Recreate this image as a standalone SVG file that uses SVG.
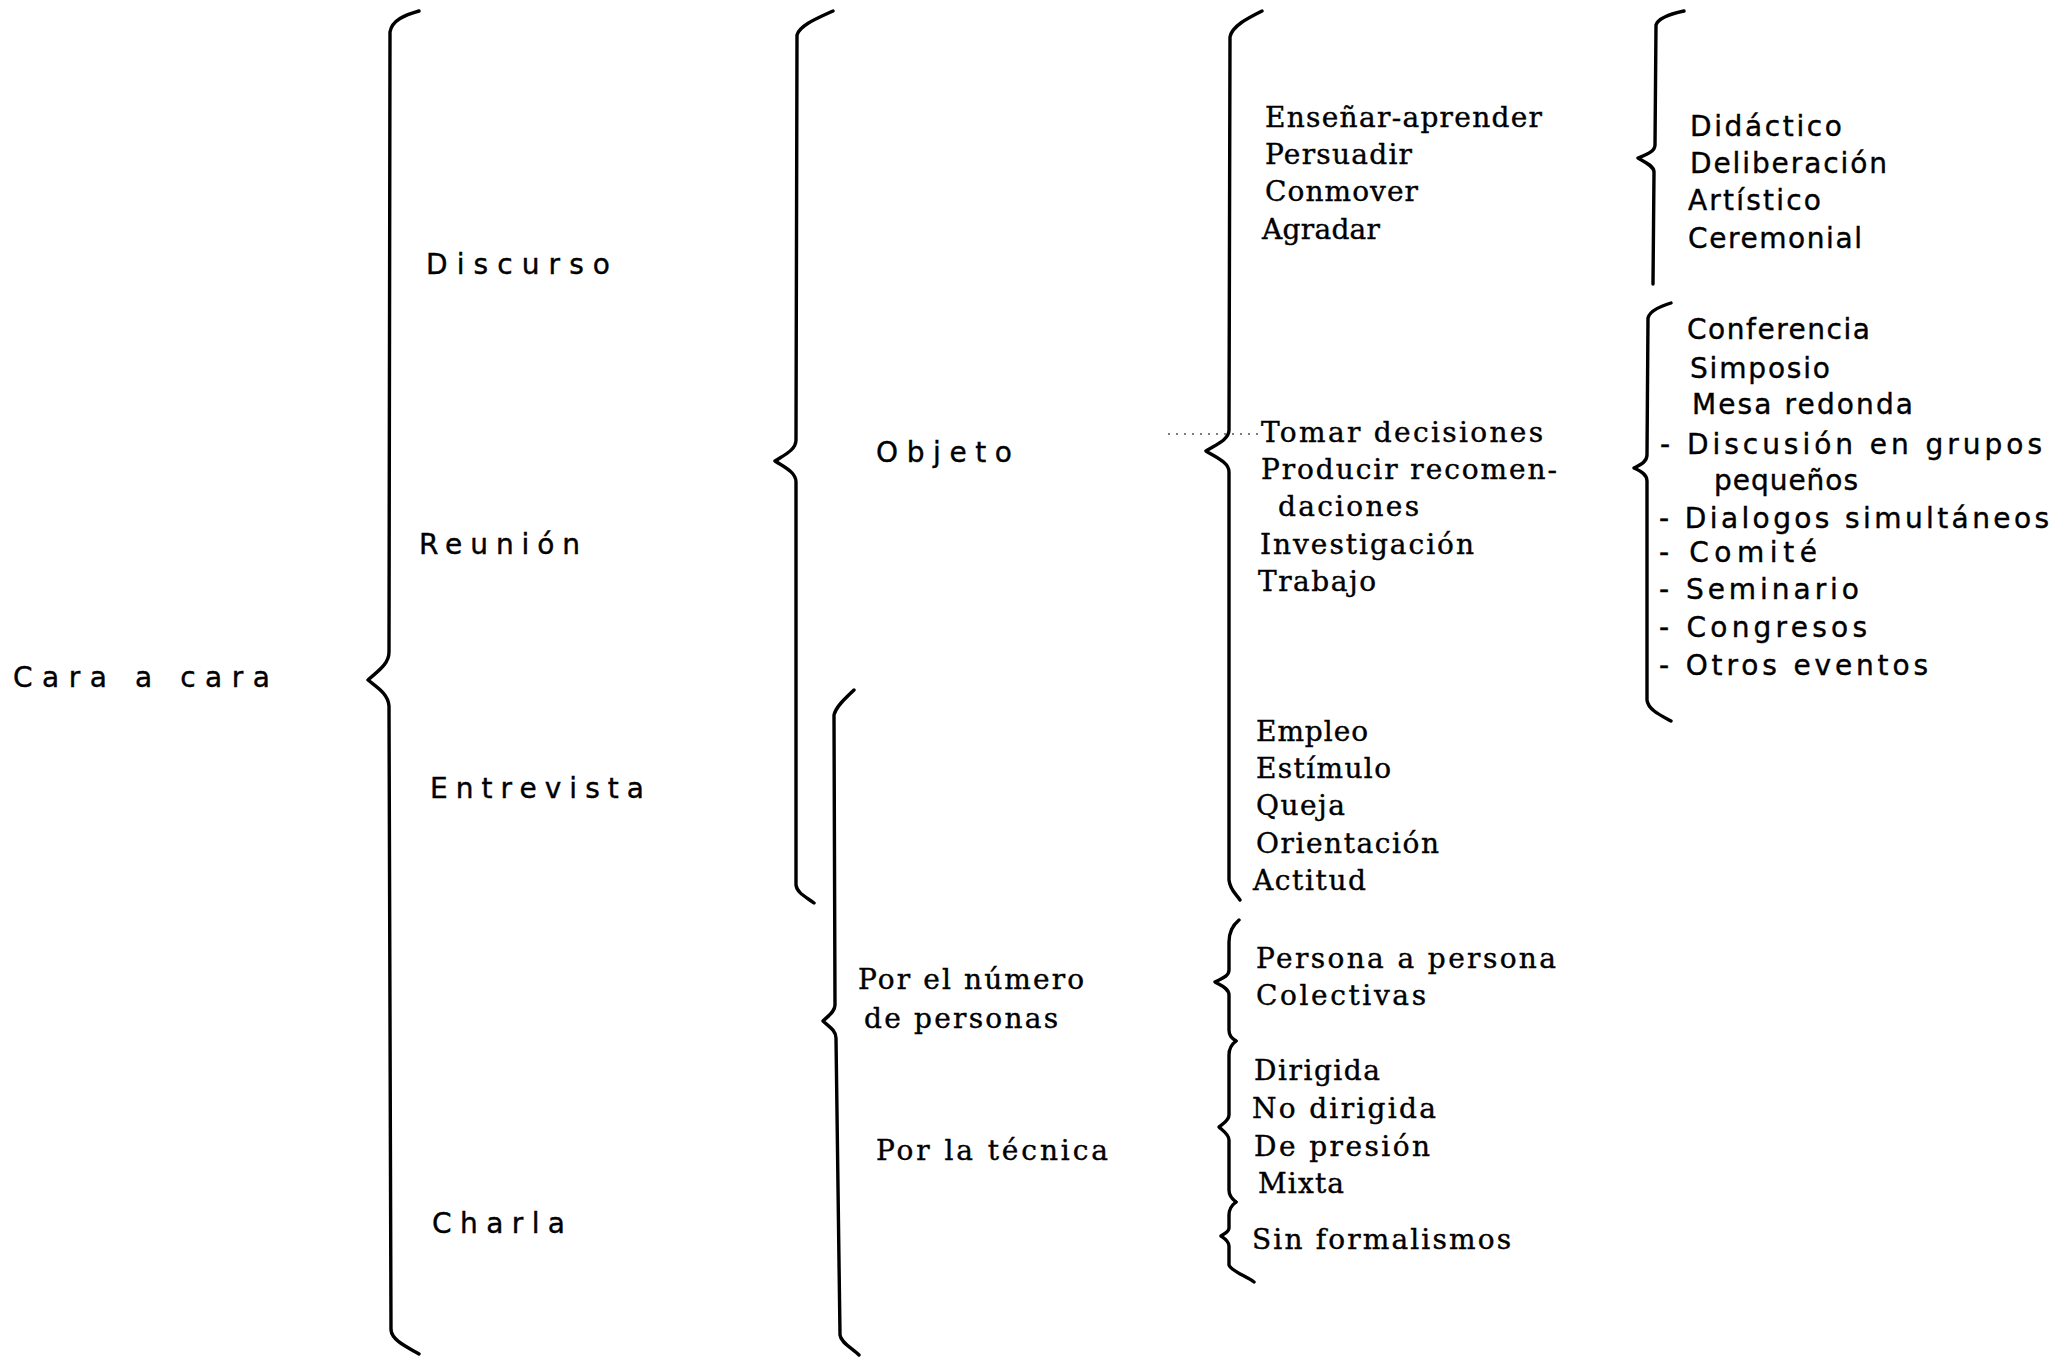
<svg xmlns="http://www.w3.org/2000/svg" width="2066" height="1357" viewBox="0 0 2066 1357">
<style>
.brace{fill:none;stroke:#000;stroke-width:3.4;stroke-linecap:round;stroke-linejoin:round}
.sp{font-family:"DejaVu Sans","Liberation Sans",sans-serif;font-size:28px;fill:#000;stroke:#000;stroke-width:0.4}
.sf{font-family:"DejaVu Serif","Liberation Serif",serif;font-size:28px;fill:#000;stroke:#000;stroke-width:0.4}
.ss{font-family:"DejaVu Sans","Liberation Sans",sans-serif;font-size:28px;fill:#000;stroke:#000;stroke-width:0.4}
.lead{fill:none;stroke:#555;stroke-width:1.5;stroke-dasharray:2 6}
</style>
<rect width="2066" height="1357" fill="#fff"/>
<g id="connectors">
<path class="brace" d="M419,11 C405,15 392,20 390,32 L389,652 C389,664 378,671 368,680 C378,688 388,694 389,706 L391,1330 C392,1340 405,1346 419,1354"/>
<path class="brace" d="M833,11 C818,18 800,25 797,35 L796,440 C796,450 784,455 775,461 C784,467 796,472 796,482 L796,885 C797,893 806,897 814,903"/>
<path class="brace" d="M854,690 C846,698 836,706 834,715 L835,1005 C835,1012 828,1016 823,1021 C828,1026 836,1030 836,1038 L840,1335 C841,1343 852,1348 859,1355"/>
<path class="brace" d="M1262,11 C1248,18 1232,26 1230,37 L1229,430 C1229,440 1215,445 1206,451 C1215,457 1229,462 1229,472 L1229,880 C1230,890 1236,894 1240,900"/>
<path class="brace" d="M1239,920 C1233,925 1229,932 1229,942 L1229,970 C1229,977 1220,979 1215,982 C1220,985 1229,988 1229,995 L1229,1030 C1229,1036 1232,1038 1236,1041"/>
<path class="brace" d="M1236,1041 C1232,1044 1229,1048 1229,1055 L1229,1115 C1229,1121 1222,1124 1219,1127 C1222,1130 1229,1134 1229,1140 L1229,1190 C1229,1196 1232,1199 1236,1202"/>
<path class="brace" d="M1236,1202 C1232,1205 1229,1209 1229,1215 L1229,1228 C1229,1232 1224,1234 1221,1236 C1224,1238 1229,1241 1229,1246 L1229,1265 C1231,1271 1246,1276 1254,1282"/>
<path class="brace" d="M1684,11 C1670,14 1658,18 1656,25 L1655,145 C1655,152 1645,155 1638,158 C1645,162 1654,166 1654,172 L1653,284"/>
<path class="brace" d="M1671,303 C1662,306 1650,310 1648,318 L1647,455 C1647,462 1640,465 1634,468 C1640,471 1647,474 1647,481 L1647,700 C1648,710 1662,716 1671,721"/>
<path class="lead" d="M1168,434 L1258,434"/>
</g>
<g id="cara"><text class="sp" x="13" y="687" textLength="257" lengthAdjust="spacing">Cara a cara</text></g>
<g id="discurso"><text class="sp" x="426" y="274" textLength="184" lengthAdjust="spacing">Discurso</text></g>
<g id="reunion"><text class="sp" x="419" y="554" textLength="161" lengthAdjust="spacing">Reunión</text></g>
<g id="entrevista"><text class="sp" x="430" y="798" textLength="214" lengthAdjust="spacing">Entrevista</text></g>
<g id="charla"><text class="sp" x="432" y="1233" textLength="133" lengthAdjust="spacing">Charla</text></g>
<g id="objeto"><text class="sp" x="876" y="462" textLength="136" lengthAdjust="spacing">Objeto</text></g>
<g id="por-numero">
<text class="sf" x="858" y="989" textLength="226" lengthAdjust="spacing">Por el número</text>
<text class="sf" x="864" y="1028" textLength="194" lengthAdjust="spacing">de personas</text>
</g>
<g id="por-tecnica"><text class="sf" x="876" y="1160" textLength="232" lengthAdjust="spacing">Por la técnica</text></g>
<g id="discurso-objeto">
<text class="sf" x="1265" y="127" textLength="277" lengthAdjust="spacing">Enseñar-aprender</text>
<text class="sf" x="1265" y="164" textLength="147" lengthAdjust="spacing">Persuadir</text>
<text class="sf" x="1265" y="201" textLength="153" lengthAdjust="spacing">Conmover</text>
<text class="sf" x="1262" y="239" textLength="118" lengthAdjust="spacing">Agradar</text>
</g>
<g id="reunion-objeto">
<text class="sf" x="1261" y="442" textLength="282" lengthAdjust="spacing">Tomar decisiones</text>
<text class="sf" x="1261" y="479" textLength="296" lengthAdjust="spacing">Producir recomen-</text>
<text class="sf" x="1278" y="516" textLength="141" lengthAdjust="spacing">daciones</text>
<text class="sf" x="1260" y="554" textLength="214" lengthAdjust="spacing">Investigación</text>
<text class="sf" x="1258" y="591" textLength="118" lengthAdjust="spacing">Trabajo</text>
</g>
<g id="entrevista-objeto">
<text class="sf" x="1256" y="741" textLength="112" lengthAdjust="spacing">Empleo</text>
<text class="sf" x="1256" y="778" textLength="135" lengthAdjust="spacing">Estímulo</text>
<text class="sf" x="1256" y="815" textLength="89" lengthAdjust="spacing">Queja</text>
<text class="sf" x="1256" y="853" textLength="183" lengthAdjust="spacing">Orientación</text>
<text class="sf" x="1253" y="890" textLength="113" lengthAdjust="spacing">Actitud</text>
</g>
<g id="numero-tipos">
<text class="sf" x="1256" y="968" textLength="300" lengthAdjust="spacing">Persona a persona</text>
<text class="sf" x="1256" y="1005" textLength="170" lengthAdjust="spacing">Colectivas</text>
</g>
<g id="tecnica-tipos">
<text class="sf" x="1254" y="1080" textLength="126" lengthAdjust="spacing">Dirigida</text>
<text class="sf" x="1252" y="1118" textLength="184" lengthAdjust="spacing">No dirigida</text>
<text class="sf" x="1254" y="1156" textLength="176" lengthAdjust="spacing">De presión</text>
<text class="sf" x="1258" y="1193" textLength="86" lengthAdjust="spacing">Mixta</text>
</g>
<g id="charla-tipo"><text class="sf" x="1252" y="1249" textLength="259" lengthAdjust="spacing">Sin formalismos</text></g>
<g id="discurso-tipos">
<text class="ss" x="1690" y="136" textLength="152" lengthAdjust="spacing">Didáctico</text>
<text class="ss" x="1690" y="173" textLength="197" lengthAdjust="spacing">Deliberación</text>
<text class="ss" x="1688" y="210" textLength="133" lengthAdjust="spacing">Artístico</text>
<text class="ss" x="1688" y="248" textLength="174" lengthAdjust="spacing">Ceremonial</text>
</g>
<g id="reunion-tipos">
<text class="ss" x="1687" y="339" textLength="183" lengthAdjust="spacing">Conferencia</text>
<text class="ss" x="1690" y="378" textLength="140" lengthAdjust="spacing">Simposio</text>
<text class="ss" x="1692" y="414" textLength="221" lengthAdjust="spacing">Mesa redonda</text>
<text class="ss" x="1660" y="454" textLength="382" lengthAdjust="spacing">- Discusión en grupos</text>
<text class="ss" x="1714" y="490" textLength="144" lengthAdjust="spacing">pequeños</text>
<text class="ss" x="1659" y="528" textLength="390" lengthAdjust="spacing">- Dialogos simultáneos</text>
<text class="ss" x="1659" y="562" textLength="158" lengthAdjust="spacing">- Comité</text>
<text class="ss" x="1659" y="599" textLength="200" lengthAdjust="spacing">- Seminario</text>
<text class="ss" x="1659" y="637" textLength="208" lengthAdjust="spacing">- Congresos</text>
<text class="ss" x="1659" y="675" textLength="269" lengthAdjust="spacing">- Otros eventos</text>
</g>
</svg>
